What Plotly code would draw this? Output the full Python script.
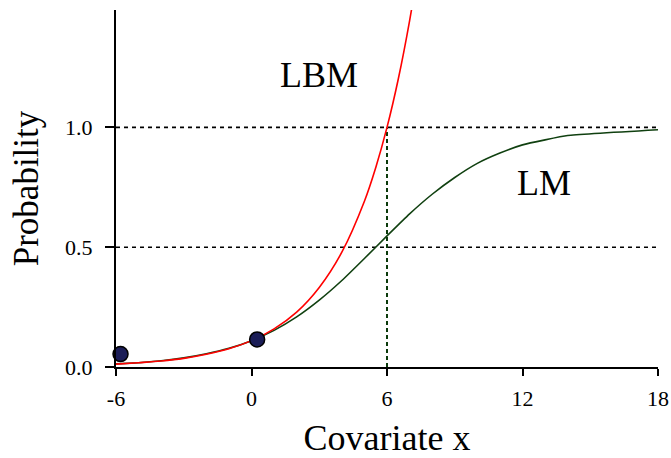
import plotly.graph_objects as go

# Data
lm_x = [-6, -5, -4, -3, -2, -1, 0, 1, 2, 3, 4, 5, 6, 7, 8, 9, 10, 11, 12, 13, 14, 18]
lm_y = [0.013, 0.018, 0.026, 0.038, 0.055, 0.078, 0.110, 0.153, 0.209, 0.279, 0.361, 0.453,
        0.547, 0.639, 0.721, 0.791, 0.850, 0.893, 0.927, 0.948, 0.966, 0.990]

lbm_x = [-6, -5, -4, -3, -2, -1, 0, 1, 2, 3, 4, 5, 5.5, 6, 6.5, 7, 7.3]
lbm_y = [0.012, 0.018, 0.025, 0.036, 0.053, 0.076, 0.110, 0.159, 0.229, 0.332, 0.479, 0.692,
         0.832, 1.000, 1.202, 1.445, 1.616]

obs_x = [-5.8, 0.25]
obs_y = [0.054, 0.115]

ref_levels = [0.5, 1.0]
cut_x = 6

x_ticks = [-6, 0, 6, 12, 18]
y_ticks = [0.0, 0.5, 1.0]
y_tick_text = ["0.0", "0.5", "1.0"]

labels = ["LBM", "LM"]
label_x = [3.0, 12.95]
label_y = [1.2175, 0.766]

FONT = "Liberation Serif, Times New Roman, serif"

fig = go.Figure()

# Reference dotted lines
for lv in ref_levels:
    fig.add_trace(go.Scatter(x=[x_ticks[0], x_ticks[-1]], y=[lv, lv], mode="lines",
                             line=dict(color="black", width=1.6, dash="4px,4px"),
                             hoverinfo="skip", showlegend=False))
fig.add_trace(go.Scatter(x=[cut_x, cut_x], y=[0, 1.0], mode="lines",
                         line=dict(color="#0b3a0b", width=2, dash="4px,3px"),
                         hoverinfo="skip", showlegend=False))

fig.add_trace(go.Scatter(x=lm_x, y=lm_y, mode="lines", name="LM",
                         line=dict(color="#104010", width=1.6, shape="spline", smoothing=0.4),
                         showlegend=False))
fig.add_trace(go.Scatter(x=lbm_x, y=lbm_y, mode="lines", name="LBM",
                         line=dict(color="#ff0000", width=1.6, shape="spline"),
                         showlegend=False))
fig.add_trace(go.Scatter(x=obs_x, y=obs_y, mode="markers", name="obs",
                         marker=dict(size=15, color="#1b1d57", line=dict(color="black", width=1.5)),
                         cliponaxis=False, showlegend=False))

for t, xx, yy in zip(labels, label_x, label_y):
    fig.add_annotation(x=xx, y=yy, text=t, showarrow=False,
                       font=dict(family=FONT, size=36, color="black"),
                       xanchor="center", yanchor="middle")

fig.update_layout(
    width=671, height=458,
    margin=dict(l=116, r=13, t=10, b=91, autoexpand=False),
    paper_bgcolor="white", plot_bgcolor="white",
    font=dict(family=FONT, color="black"),
)
fig.update_xaxes(
    range=[-6, 18], tickvals=x_ticks, ticktext=[str(v) for v in x_ticks],
    showgrid=False, zeroline=False, showline=True, linecolor="black", linewidth=2,
    ticks="outside", ticklen=7, tickwidth=1.5, tickcolor="black", automargin=False,
    tickfont=dict(family=FONT, size=22, color="black"), ticklabelstandoff=4,
    title=dict(text="Covariate x", font=dict(family=FONT, size=36, color="black"), standoff=18),
)
fig.update_yaxes(
    range=[0, 1.49], tickvals=y_ticks, ticktext=y_tick_text,
    showgrid=False, zeroline=False, showline=True, linecolor="black", linewidth=2,
    ticks="outside", ticklen=9, tickwidth=1.5, tickcolor="black", automargin=False,
    tickfont=dict(family=FONT, size=22, color="black"), ticklabelstandoff=8,
    title=dict(text="Probability", font=dict(family=FONT, size=35, color="black"), standoff=16),
)

fig.write_html(
    "out.html",
    config={"displayModeBar": False},
    post_script="document.body.style.margin='0';document.body.style.overflow='hidden';",
)
